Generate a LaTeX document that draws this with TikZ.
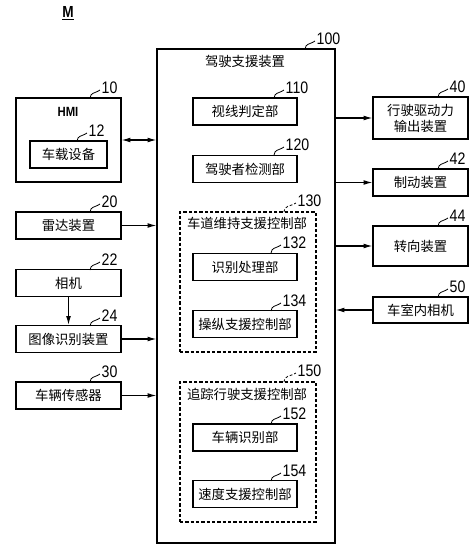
\documentclass[tikz,border=0pt]{standalone}
\usepackage{fontspec}
\newfontfamily\cjk{Noto Sans CJK SC}
\newfontfamily\numfont[FakeStretch=0.85]{Liberation Sans}
\usetikzlibrary{arrows.meta, positioning, calc}

\begin{document}
\begin{tikzpicture}[x=0.75pt, y=-0.75pt,
  blk/.style={draw, line width=0.9pt, align=center, inner sep=0pt,
              font=\cjk\fontsize{10}{12}\selectfont},
  grp/.style={draw, dash pattern=on 2.5pt off 1.5pt, line width=0.8pt, inner sep=0pt},
  ttl/.style={inner sep=0pt, font=\cjk\fontsize{10}{12}\selectfont},
  tag/.style={inner sep=0pt, anchor=base west, xshift=1pt, yshift=-2.5pt,
              font=\numfont\fontsize{12.5}{14}\selectfont},
  lead/.style={line width=0.6pt},
  arr/.style={-{Latex[length=6.5pt,width=3.5pt]}, line width=0.8pt},
  darr/.style={{Latex[length=6.5pt,width=3.5pt]}-{Latex[length=6.5pt,width=3.5pt]}, line width=0.8pt}
]
\useasboundingbox (0,0) rectangle (474,547);

\node[font=\numfont\bfseries\fontsize{12}{14}\selectfont] (fig) at (68,13) {\underline{M}};

% driving assistance device
\node[blk, minimum width=133.5pt, minimum height=370.5pt] (main) at (246,296) {};
\node[ttl] (maintitle) at (245,61) {驾驶支援装置};

\node[blk, minimum width=78pt, minimum height=20.25pt] (gaze)   at (245,111.5) {视线判定部};
\node[blk, minimum width=78pt, minimum height=20.25pt] (drvdet) at (245,169)   {驾驶者检测部};

\node[grp, minimum width=102pt, minimum height=105pt] (lkas) at (248,282) {};
\node[ttl] (lkastitle) at (247,223) {车道维持支援控制部};
\node[blk, minimum width=78pt, minimum height=20.25pt] (recog) at (245,267) {识别处理部};
\node[blk, minimum width=78pt, minimum height=20.25pt] (steer) at (245,324) {操纵支援控制部};

\node[grp, minimum width=102pt, minimum height=105pt] (acc) at (248,452) {};
\node[ttl] (acctitle) at (247,394) {追踪行驶支援控制部};
\node[blk, minimum width=78pt, minimum height=20.25pt] (vehid) at (245,437.5) {车辆识别部};
\node[blk, minimum width=78pt, minimum height=20.25pt] (speed) at (245,494)   {速度支援控制部};

% inputs
\node[blk, minimum width=78.75pt, minimum height=63pt] (hmi) at (68.5,140) {};
\node[inner sep=0pt, font=\numfont\bfseries\fontsize{10}{12}\selectfont] (hmititle) at (68,112) {HMI};
\node[blk, minimum width=57.75pt, minimum height=20.25pt] (dev)    at (68.5,154.5) {车载设备};
\node[blk, minimum width=78.75pt, minimum height=20.25pt] (radar)  at (68.5,225.5) {雷达装置};
\node[blk, minimum width=78.75pt, minimum height=20.25pt] (cam)    at (68.5,283)   {相机};
\node[blk, minimum width=78.75pt, minimum height=20.25pt] (imgrec) at (68.5,339)   {图像识别装置};
\node[blk, minimum width=78.75pt, minimum height=20.25pt] (vsens)  at (68.5,395.5) {车辆传感器};

% outputs
\node[blk, minimum width=71.25pt, minimum height=31.5pt]  (drive)    at (420.5,118)   {行驶驱动力\\输出装置};
\node[blk, minimum width=71.25pt, minimum height=20.25pt] (brake)    at (420.5,182.5) {制动装置};
\node[blk, minimum width=71.25pt, minimum height=30pt]    (steerdev) at (420.5,246)   {转向装置};
\node[blk, minimum width=71.25pt, minimum height=19.5pt]  (incam)    at (420.5,310)   {车室内相机};

% connections
\draw[darr] (hmi.east) -- (hmi.east -| main.west);
\draw[arr] (radar.east)  -- (radar.east -| main.west);
\draw[arr] (imgrec.east) -- (imgrec.east -| main.west);
\draw[arr] (vsens.east)  -- (vsens.east -| main.west);
\draw[arr] (cam.south)   -- (imgrec.north);
\draw[arr] (main.east |- drive.west)    -- (drive.west);
\draw[arr] (main.east |- brake.west)    -- (brake.west);
\draw[arr] (main.east |- steerdev.west) -- (steerdev.west);
\draw[arr] (incam.west) -- (incam.west -| main.east);

% reference numerals
\foreach \px/\py/\num in {305/49/100, 90/98/10, 77/141/12, 90/212/20, 90/270/22,
    90/326/24, 90/382/30, 274/98/110, 274/155/120, 271/253/132, 271/311/134,
    271/424/152, 271/481/154, 438/97/40, 438/169/42, 438/226/44, 438/297/50}
  \draw[lead] (\px,\py) .. controls +(1,-6) and +(-6,4) .. +(10,-8) node[tag] {\num};
\foreach \px/\py/\num in {284/212/130, 284/382/150}
  \draw[lead, dash pattern=on 2pt off 1.5pt] (\px,\py) .. controls +(1,-7) and +(-7,4) .. +(12,-9) node[tag] {\num};
\end{tikzpicture}
\end{document}
